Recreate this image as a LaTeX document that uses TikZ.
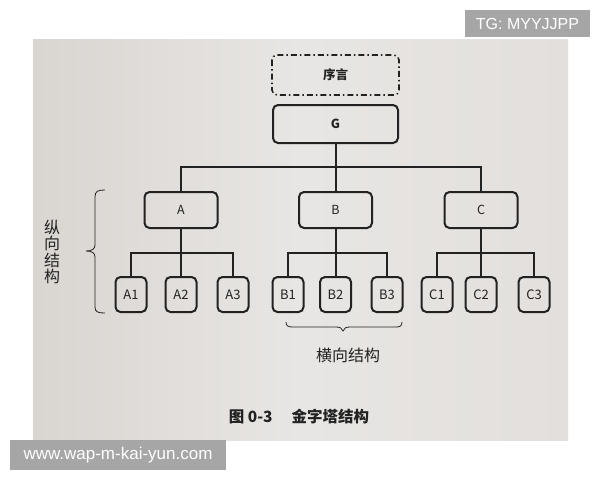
\documentclass[tikz,border=0pt]{standalone}
\usepackage{fontspec}
\setmainfont{Noto Sans CJK SC}
\newfontfamily\wmfont{Liberation Sans}
\definecolor{ink}{HTML}{222222}
\definecolor{paperL}{HTML}{D9D5D1}
\definecolor{paperM}{HTML}{E8E6E4}
\definecolor{paperR}{HTML}{E2DFDC}
\definecolor{wmgray}{HTML}{A6A6A6}
\begin{document}
\begin{tikzpicture}[x=1pt,y=-1pt,
  box/.style={draw=ink, line width=2pt, rounded corners=5pt, inner sep=0pt, text=ink},
  topbox/.style={box, minimum width=125pt, minimum height=38pt, font=\bfseries\fontsize{12.5}{13}\selectfont},
  mid/.style={box, minimum width=73pt, minimum height=36pt, font=\fontsize{12.5}{13}\selectfont},
  leaf/.style={box, minimum width=31pt, minimum height=35pt, font=\fontsize{13}{14}\selectfont},
  conn/.style={draw=ink, line width=2pt},
  bracestyle/.style={draw=ink, line width=0.8pt},
  lab/.style={text=ink, inner sep=0pt, font=\fontsize{16}{16.5}\selectfont},
  wm/.style={fill=wmgray, text=white, inner sep=0pt},
]
\useasboundingbox (0,0) rectangle (600,480);
\fill[white] (0,0) rectangle (600,480);
\shade[left color=paperL, right color=paperR, middle color=paperM] (33,39) rectangle (568,440);

% top
\node[topbox, draw=none] (pre) at (335.5,75) {序言};
\draw[ink, line width=1.6pt, rounded corners=5pt, dash pattern=on 6pt off 3pt on 1.5pt off 3pt]
  (pre.north west) rectangle (pre.south east);
\node[topbox] (G) at (335.5,124) {G};

% middle
\node[mid] (A) at (181,210) {A};
\node[mid] (B) at (335.5,210) {B};
\node[mid] (C) at (481,210) {C};

% leaves
\node[leaf] (A1) at (131,294.5) {A1};
\node[leaf] (A2) at (181,294.5) {A2};
\node[leaf] (A3) at (233,294.5) {A3};
\node[leaf] (B1) at (288,294.5) {B1};
\node[leaf] (B2) at (335.5,294.5) {B2};
\node[leaf] (B3) at (387,294.5) {B3};
\node[leaf] (C1) at (437,294.5) {C1};
\node[leaf] (C2) at (481,294.5) {C2};
\node[leaf] (C3) at (534,294.5) {C3};

% connectors
\coordinate (bus) at (335.5,167);
\coordinate (yb) at (0,253);
\coordinate (busA) at (A.south |- yb);
\coordinate (busB) at (B.south |- yb);
\coordinate (busC) at (C.south |- yb);
\draw[conn] (G.south) -- (B.north);
\draw[conn] (A.north) |- (bus) -| (C.north);
\draw[conn] (A.south) -- (A2.north);
\draw[conn] (A1.north) |- (busA) -| (A3.north);
\draw[conn] (B.south) -- (B2.north);
\draw[conn] (B1.north) |- (busB) -| (B3.north);
\draw[conn] (C.south) -- (C2.north);
\draw[conn] (C1.north) |- (busC) -| (C3.north);

% left brace (bracket-like)
\draw[bracestyle] (105,190) .. controls (98,190) and (95,191) .. (95,197)
  -- (95,245) .. controls (95,249) and (92,251) .. (86,251)
  .. controls (92,251) and (95,253) .. (95,257)
  -- (95,307) .. controls (95,312) and (98,313) .. (105,313);
% bottom brace
\draw[bracestyle] (286,322) .. controls (286,326) and (288,327) .. (293,327)
  -- (336,327) .. controls (340,327) and (342,328) .. (343,331)
  .. controls (344,328) and (346,327) .. (350,327)
  -- (396,327) .. controls (400,327) and (402,326) .. (402,322);

% labels
\node[lab, align=center] (vlab) at (52,252) {纵\\向\\结\\构};
\node[lab] (hlab) at (348,355) {横向结构};
\node[text=ink, inner sep=0pt, font=\bfseries\fontsize{15.5}{16}\selectfont] (cap) at (299,417) {图 0-3\hspace{19pt}金字塔结构};

% watermarks
\node[wm, minimum width=125pt, minimum height=27pt, font=\wmfont\fontsize{16}{16}\selectfont] (tg) at (527.5,23.5) {TG: MYYJJPP};
\node[wm, minimum width=216pt, minimum height=30pt, font=\wmfont\fontsize{17}{17}\selectfont] (www) at (118,455) {www.wap-m-kai-yun.com};
\end{tikzpicture}
\end{document}
